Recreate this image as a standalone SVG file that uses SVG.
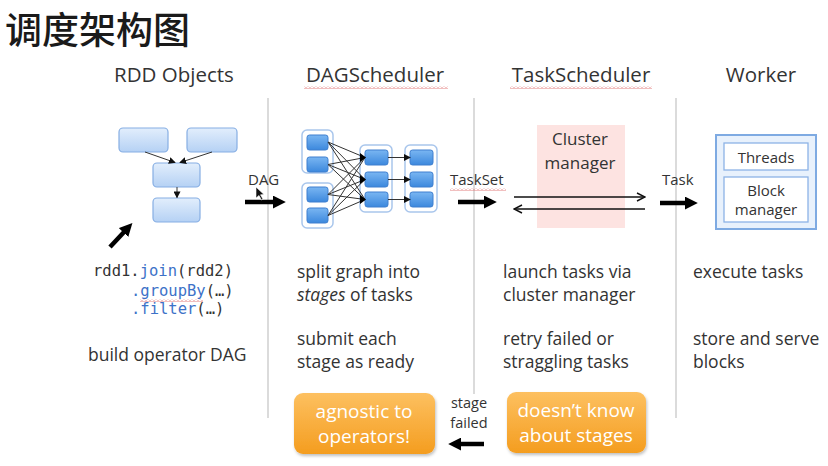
<svg xmlns="http://www.w3.org/2000/svg" width="828" height="466" viewBox="0 0 828 466">
<defs>
<style>
.t{font-family:"Open Sans","Noto Sans",sans-serif;fill:#333}
.hd{font-size:20.5px;text-anchor:middle}
.body{font-size:17.5px}
.mono{font-family:"DejaVu Sans Mono","Liberation Mono",monospace;font-size:15.5px;fill:#333}
.kw{fill:#3d72c8}
.sep{stroke:#cfcfcf;stroke-width:1.5}
.rbox{fill:url(#gLight);stroke:#86aee3;stroke-width:1.2}
.dbox{fill:url(#gBlue);stroke:#3f7fcf;stroke-width:1}
.grp{fill:#fff;stroke:#a9c6ec;stroke-width:1.5}
.edge{stroke:#333;stroke-width:1;fill:none}
.thick{stroke:#000;stroke-width:4.5;fill:none}
.thin{stroke:#111;stroke-width:1.3;fill:none}
.orange{fill:url(#gOrange)}
.otxt{font-family:"Open Sans","Noto Sans",sans-serif;font-size:19px;fill:#fff;text-anchor:middle}
.squig{fill:url(#wave)}
</style>
<linearGradient id="gLight" x1="0" y1="0" x2="0" y2="1"><stop offset="0" stop-color="#e2eefc"/><stop offset="1" stop-color="#b5d1f4"/></linearGradient>
<linearGradient id="gBlue" x1="0" y1="0" x2="0" y2="1"><stop offset="0" stop-color="#7ab6f2"/><stop offset="1" stop-color="#3c88dd"/></linearGradient>
<linearGradient id="gOrange" x1="0" y1="0" x2="0" y2="1"><stop offset="0" stop-color="#fdc060"/><stop offset="1" stop-color="#f49d1f"/></linearGradient>
<pattern id="wave" width="4" height="3" patternUnits="userSpaceOnUse"><path d="M0 2.5 L2 0.5 L4 2.5" fill="none" stroke="#e07070" stroke-width="0.9"/></pattern>
<marker id="bigHead" markerUnits="userSpaceOnUse" viewBox="0 0 12 12" markerWidth="13" markerHeight="13" refX="2" refY="6" orient="auto"><path d="M0 0 L12 6 L0 12 Z" fill="#000"/></marker>
<marker id="smallHead" markerUnits="userSpaceOnUse" viewBox="0 0 8 8" markerWidth="7" markerHeight="7" refX="7" refY="4" orient="auto"><path d="M0 0 L8 4 L0 8 Z" fill="#111"/></marker>
<marker id="openHead" markerUnits="userSpaceOnUse" viewBox="0 0 10 10" markerWidth="10" markerHeight="10" refX="9" refY="5" orient="auto"><path d="M1 1 L9 5 L1 9" fill="none" stroke="#111" stroke-width="1.4"/></marker>
<filter id="shadow" x="-10%" y="-10%" width="130%" height="140%"><feDropShadow dx="1" dy="2" stdDeviation="1.5" flood-color="#000" flood-opacity="0.25"/></filter>
</defs>
<rect width="828" height="466" fill="#fff"/>

<text x="5" y="44" font-family="'Noto Sans CJK SC',sans-serif" font-size="37" font-weight="500" fill="#1a1a1a">调度架构图</text>

<g id="headers">
<text class="t hd" x="174" y="82">RDD Objects</text>
<text class="t hd" x="375" y="82">DAGScheduler</text>
<text class="t hd" x="581" y="82">TaskScheduler</text>
<text class="t hd" x="761" y="82">Worker</text>
<rect class="squig" x="304" y="86" width="144" height="3"/>
<rect class="squig" x="510" y="86" width="142" height="3"/>
</g>

<g id="separators">
<line class="sep" x1="268" y1="98" x2="268" y2="418"/>
<line class="sep" x1="474" y1="98" x2="474" y2="394"/>
<line class="sep" x1="676" y1="98" x2="676" y2="418"/>
</g>

<g id="rdd-objects">
<rect class="rbox" x="119" y="128" width="49" height="24" rx="4"/>
<rect class="rbox" x="187" y="128" width="50" height="24" rx="4"/>
<rect class="rbox" x="153" y="163" width="47" height="24" rx="4"/>
<rect class="rbox" x="153" y="198" width="47" height="24" rx="4"/>
</g>

<g id="dag-scheduler-graph">
<rect class="grp" x="302" y="130" width="31" height="43" rx="5"/>
<rect class="grp" x="302" y="183" width="31" height="45" rx="5"/>
<rect class="grp" x="360" y="145" width="32" height="67" rx="5"/>
<rect class="grp" x="405" y="145" width="32" height="67" rx="5"/>
<rect class="dbox" x="307" y="135" width="21" height="15" rx="2.5"/>
<rect class="dbox" x="307" y="157" width="21" height="15" rx="2.5"/>
<rect class="dbox" x="307" y="187" width="21" height="15" rx="2.5"/>
<rect class="dbox" x="307" y="208" width="21" height="15" rx="2.5"/>
<rect class="dbox" x="365" y="150" width="23" height="15" rx="2.5"/>
<rect class="dbox" x="365" y="172" width="23" height="15" rx="2.5"/>
<rect class="dbox" x="365" y="192" width="23" height="15" rx="2.5"/>
<rect class="dbox" x="410" y="150" width="23" height="15" rx="2.5"/>
<rect class="dbox" x="410" y="172" width="23" height="15" rx="2.5"/>
<rect class="dbox" x="410" y="192" width="23" height="15" rx="2.5"/>
</g>

<g id="cluster-manager">
<rect x="537" y="125" width="88" height="103" fill="#fde3e1"/>
<text class="t" x="580" y="145" font-size="17" text-anchor="middle">Cluster</text>
<text class="t" x="580" y="169" font-size="17" text-anchor="middle">manager</text>
</g>

<g id="worker">
<rect x="716" y="135" width="100" height="94" fill="#e8f1fc" stroke="#7eaae2" stroke-width="2"/>
<rect x="724" y="143" width="84" height="27" fill="#fff" stroke="#8db3e6" stroke-width="1.3"/>
<rect x="724" y="177" width="84" height="45" fill="#fff" stroke="#8db3e6" stroke-width="1.3"/>
<text class="t" x="766" y="163" font-size="15" text-anchor="middle">Threads</text>
<text class="t" x="766" y="196" font-size="15" text-anchor="middle">Block</text>
<text class="t" x="766" y="215" font-size="15" text-anchor="middle">manager</text>
</g>

<g id="connectors">
<line class="edge" x1="145" y1="152" x2="175" y2="162.5" marker-end="url(#smallHead)"/>
<line class="edge" x1="212" y1="152" x2="180" y2="162.5" marker-end="url(#smallHead)"/>
<line class="edge" x1="177" y1="187" x2="177" y2="197.5" marker-end="url(#smallHead)"/>
<line class="thick" x1="110" y1="247" x2="125" y2="231" marker-end="url(#bigHead)"/>

<g class="edge">
<path d="M328 142 L365 157.5 M328 142 L365 179.5 M328 142 L365 199.5 M328 164.5 L365 157.5 M328 164.5 L365 179.5 M328 164.5 L365 199.5 M328 194.5 L365 157.5 M328 194.5 L365 179.5 M328 194.5 L365 199.5 M328 215.5 L365 157.5 M328 215.5 L365 179.5 M328 215.5 L365 199.5"/>
</g>
<path d="M360 153 L366 157.5 L360 162 Z M360 175 L366 179.5 L360 184 Z M360 195 L366 199.5 L360 204 Z" fill="#000"/>
<line class="edge" x1="388" y1="157.5" x2="410" y2="157.5" marker-end="url(#smallHead)"/>
<line class="edge" x1="388" y1="179.5" x2="410" y2="179.5" marker-end="url(#smallHead)"/>
<line class="edge" x1="388" y1="199.5" x2="410" y2="199.5" marker-end="url(#smallHead)"/>

<line class="thick" x1="245" y1="202" x2="275" y2="202" marker-end="url(#bigHead)"/>
<line class="thick" x1="458" y1="202" x2="486" y2="202" marker-end="url(#bigHead)"/>
<line class="thick" x1="660" y1="203" x2="687" y2="203" marker-end="url(#bigHead)"/>
<line class="thick" x1="484" y1="444" x2="459" y2="444" marker-end="url(#bigHead)"/>

<line class="thin" x1="514" y1="197" x2="645" y2="197" marker-end="url(#openHead)"/>
<line class="thin" x1="645" y1="209" x2="514" y2="209" marker-end="url(#openHead)"/>
</g>

<g id="edge-labels">
<text class="t" x="248" y="185" font-size="15">DAG</text>
<text class="t" x="450" y="185" font-size="15">TaskSet</text>
<rect class="squig" x="450" y="188" width="56" height="3"/>
<text class="t" x="662" y="185" font-size="15">Task</text>
<text class="t" x="469" y="408" font-size="14.5" text-anchor="middle">stage</text>
<text class="t" x="469" y="428" font-size="14.5" text-anchor="middle">failed</text>
<path d="M256 187 L256 198 L259 195.5 L261.5 200 L263 199.2 L260.5 194.8 L264 194.5 Z" fill="#111" stroke="#fff" stroke-width="0.6"/>
</g>

<g id="code">
<text class="mono" x="93" y="276">rdd1.<tspan class="kw">join</tspan>(rdd2)</text>
<text class="mono" x="131" y="296"><tspan class="kw">.groupBy</tspan>(…)</text>
<rect class="squig" x="140" y="299" width="63" height="3"/>
<text class="mono" x="131" y="314"><tspan class="kw">.filter</tspan>(…)</text>
<text class="t body" x="88" y="361">build operator DAG</text>
</g>

<g id="dag-text">
<text class="t body" x="297" y="278">split graph into</text>
<text class="t body" x="297" y="301"><tspan font-style="italic">stages</tspan> of tasks</text>
<text class="t body" x="297" y="345">submit each</text>
<text class="t body" x="297" y="368">stage as ready</text>
</g>

<g id="task-text">
<text class="t body" x="503" y="278">launch tasks via</text>
<text class="t body" x="503" y="301">cluster manager</text>
<text class="t body" x="503" y="345">retry failed or</text>
<text class="t body" x="503" y="368">straggling tasks</text>
</g>

<g id="worker-text">
<text class="t body" x="693" y="278">execute tasks</text>
<text class="t body" x="693" y="345">store and serve</text>
<text class="t body" x="693" y="368">blocks</text>
</g>

<g id="agnostic">
<rect class="orange" x="294" y="393" width="141" height="61" rx="9" filter="url(#shadow)"/>
<text class="otxt" x="364" y="418">agnostic to</text>
<text class="otxt" x="364" y="443">operators!</text>
</g>
<g id="doesnt-know">
<rect class="orange" x="507" y="392" width="139" height="61" rx="9" filter="url(#shadow)"/>
<text class="otxt" x="576" y="417">doesn’t know</text>
<text class="otxt" x="576" y="442">about stages</text>
</g>
</svg>
